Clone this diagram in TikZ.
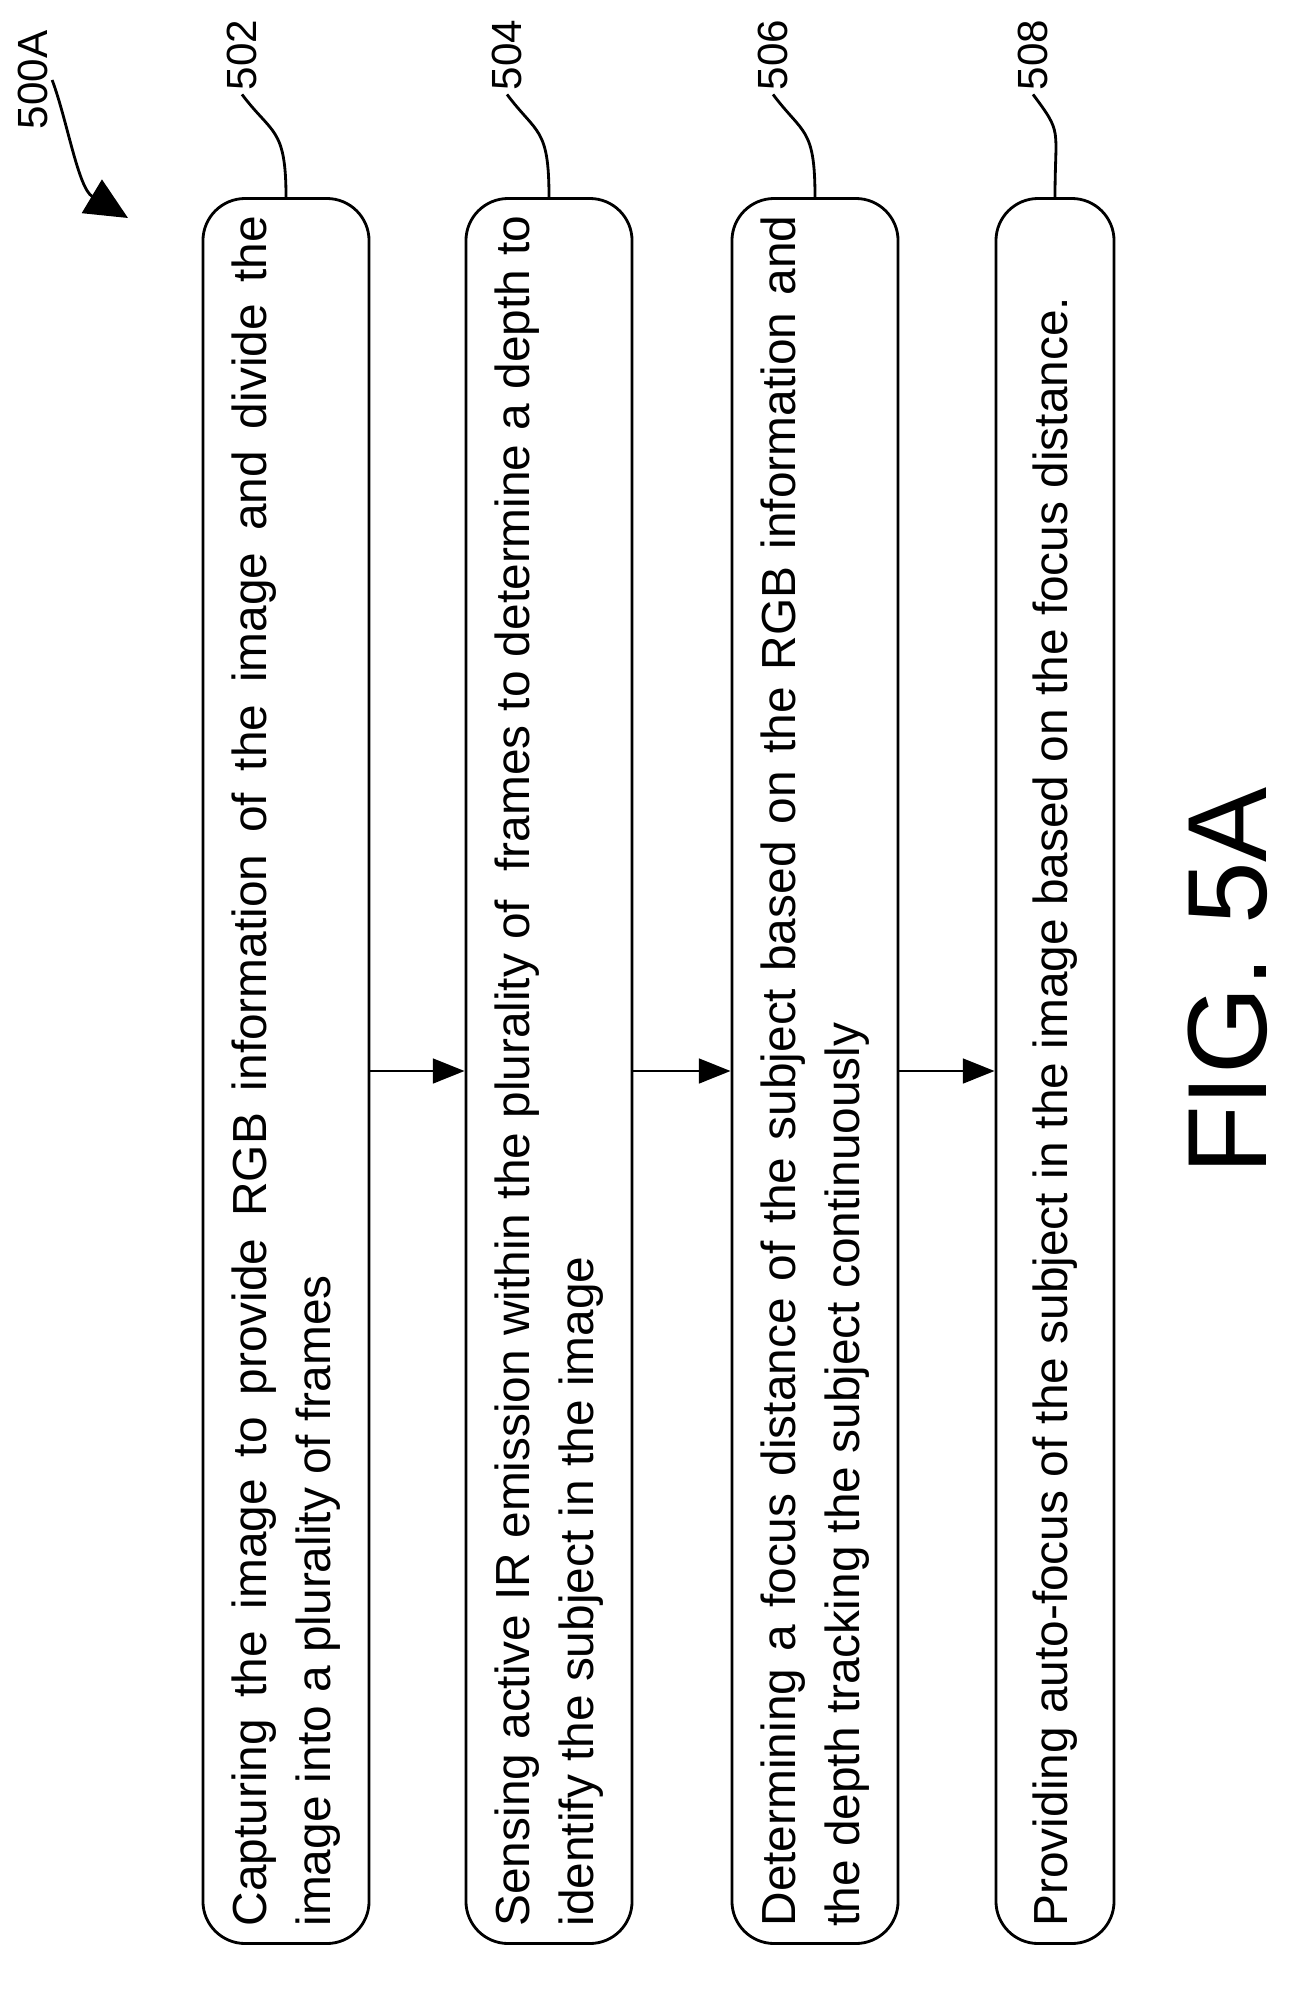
\documentclass[tikz,border=0pt]{standalone}
\usepackage{fontspec}
\setmainfont{Liberation Sans}
\usetikzlibrary{arrows.meta, positioning}
\tikzstyle{step box} = [draw, thick, rounded corners=12pt, rotate=90, minimum width=17.44cm, minimum height=1.66cm, text width=17.1cm, align=justify, font=\fontsize{13.6}{18}\selectfont, inner sep=4pt]
\tikzstyle{ref} = [rotate=90, font=\fontsize{12}{14}\selectfont, inner sep=1pt]
\tikzstyle{path} = [-{Triangle[length=9pt, width=7pt]}, thick]
\tikzstyle{lead} = [thick]

\begin{document}
\begin{tikzpicture}[x=0.01cm, y=-0.01cm]
    \useasboundingbox (0,0) rectangle (1296,2000);

    \node (step 1) [step box] at (286,1071) {Capturing the image to provide RGB information of the image and divide the\linebreak image into a plurality of frames};
    \node (step 2) [step box] at (549,1071) {Sensing active IR emission within the plurality of \ frames to determine a depth to\linebreak identify the subject in the image};
    \node (step 3) [step box] at (815,1071) {Determining a focus distance of the subject based on the RGB information and\linebreak the depth tracking the subject continuously};
    \node (step 4) [step box, minimum height=1.18cm] at (1055,1071) {Providing auto-focus of the subject in the image based on the focus distance.};

    \foreach \i/\x in {1/242, 2/507, 3/773, 4/1033} {%
        \node (ref \i) [ref] at (\x,55) {50\the\numexpr 2*\i\relax};
        \draw [lead] (step \i.east) .. controls +(0,-70) and +(30,40) .. (ref \i.west);
    }

    % Arrows.
    \foreach \i/\j in {1/2, 2/3, 3/4} {%
        \draw [path] (step \i.south) -- (step \j.north);
    }

    \node (fig id) [ref] at (33,80) {500A};
    \draw [-{Triangle[length=12pt, width=11pt]}, thick] (fig id.south) .. controls +(15,40) and +(-50,-30) .. (128,218);

    \node (caption) [rotate=90, font=\fontsize{32}{34}\selectfont] at (1228,981) {FIG. 5A};
\end{tikzpicture}
\end{document}
